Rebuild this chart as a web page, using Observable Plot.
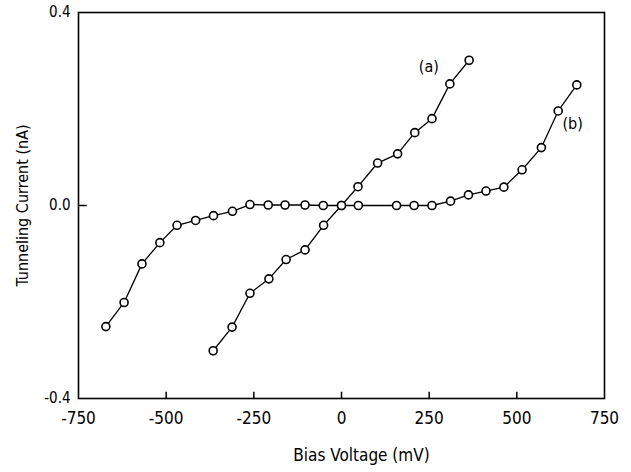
<!DOCTYPE html>
<html>
<head>
<meta charset="utf-8">
<script src="https://cdn.jsdelivr.net/npm/d3@7"></script>
<script src="https://cdn.jsdelivr.net/npm/@observablehq/plot@0.6"></script>
<style>
  html, body { margin: 0; padding: 0; background: #fff; }
  #chart svg { font-family: "DejaVu Sans Condensed", "DejaVu Sans", sans-serif; }
</style>
</head>
<body>
<div id="chart"></div>
<script>
// Curve (a)
const aVoltage = [-366, -312, -261, -207, -158, -104, -51, 0, 47, 103, 160, 209, 258, 309, 364];
const aCurrent = [-0.301, -0.252, -0.182, -0.152, -0.112, -0.092, -0.041, 0.0, 0.039, 0.088, 0.107, 0.151, 0.180, 0.252, 0.301];
// Curve (b)
const bVoltage = [-672, -620, -569, -518, -469, -416, -365, -311, -261, -209, -161, -104, -52, 0, 48, 157, 207, 258, 311, 362, 412, 463, 515, 570, 618, 671];
const bCurrent = [-0.251, -0.201, -0.121, -0.077, -0.041, -0.031, -0.021, -0.012, 0.002, 0.001, 0.001, 0.001, 0.0, 0.0, 0.0, 0.0, 0.0, 0.0, 0.009, 0.022, 0.030, 0.038, 0.074, 0.120, 0.196, 0.250];
// Curve labels (anchor in data units)
const curveNames = ["(a)", "(b)"];
const labelVoltage = [249, 659];
const labelCurrent = [0.288, 0.170];
// Ticks
const xTicks = [-750, -500, -250, 0, 250, 500, 750];
const xInnerTicks = [-500, -250, 0, 250, 500];
const yTicks = [-0.4, 0.0, 0.4];
const yInnerTicks = [0.0];

const a = aVoltage.map((v, i) => ({v, c: aCurrent[i]}));
const b = bVoltage.map((v, i) => ({v, c: bCurrent[i]}));
const labels = curveNames.map((n, i) => ({n, v: labelVoltage[i], c: labelCurrent[i]}));

const chart = Plot.plot({
  width: 631,
  height: 472,
  marginLeft: 78,
  marginRight: 27,
  marginTop: 12,
  marginBottom: 74,
  style: {fontSize: "17px", color: "#000", background: "#fff"},
  x: {domain: [-750, 750]},
  y: {domain: [-0.4, 0.4]},
  marks: [
    Plot.frame({stroke: "#000", strokeWidth: 1.6}),
    Plot.axisX({ticks: xTicks, tickSize: 0, tickPadding: 13, tickFormat: d => String(d),
      label: null, fontSize: 17}),
    Plot.text(["Bias Voltage (mV)"], {frameAnchor: "bottom", dx: 20, dy: 62, text: d => d, fontSize: 17, fill: "#000"}),
    Plot.axisY({ticks: yTicks, tickSize: 0, tickPadding: 8, tickFormat: d => d.toFixed(1),
      label: null, fontSize: 15}),
    Plot.axisY({ticks: [], tickSize: 0, label: "Tunneling Current (nA)", labelAnchor: "center",
      labelArrow: "none", labelOffset: 62, fontSize: 16}),
    Plot.ruleX(xInnerTicks, {x: d => d, y1: -0.4, y2: -0.387, stroke: "#000", strokeWidth: 1.5}),
    Plot.ruleY(yInnerTicks, {y: d => d, x1: -750, x2: -725, stroke: "#000", strokeWidth: 1.5}),
    Plot.line(a, {x: "v", y: "c", stroke: "#000", strokeWidth: 1.3}),
    Plot.line(b, {x: "v", y: "c", stroke: "#000", strokeWidth: 1.3}),
    Plot.dot(a, {x: "v", y: "c", r: 4, fill: "#fff", stroke: "#000", strokeWidth: 1.6}),
    Plot.dot(b, {x: "v", y: "c", r: 4, fill: "#fff", stroke: "#000", strokeWidth: 1.6}),
    Plot.text(labels, {x: "v", y: "c", text: "n", fontSize: 16, fill: "#000"})
  ]
});
document.getElementById("chart").append(chart);
</script>
</body>
</html>
